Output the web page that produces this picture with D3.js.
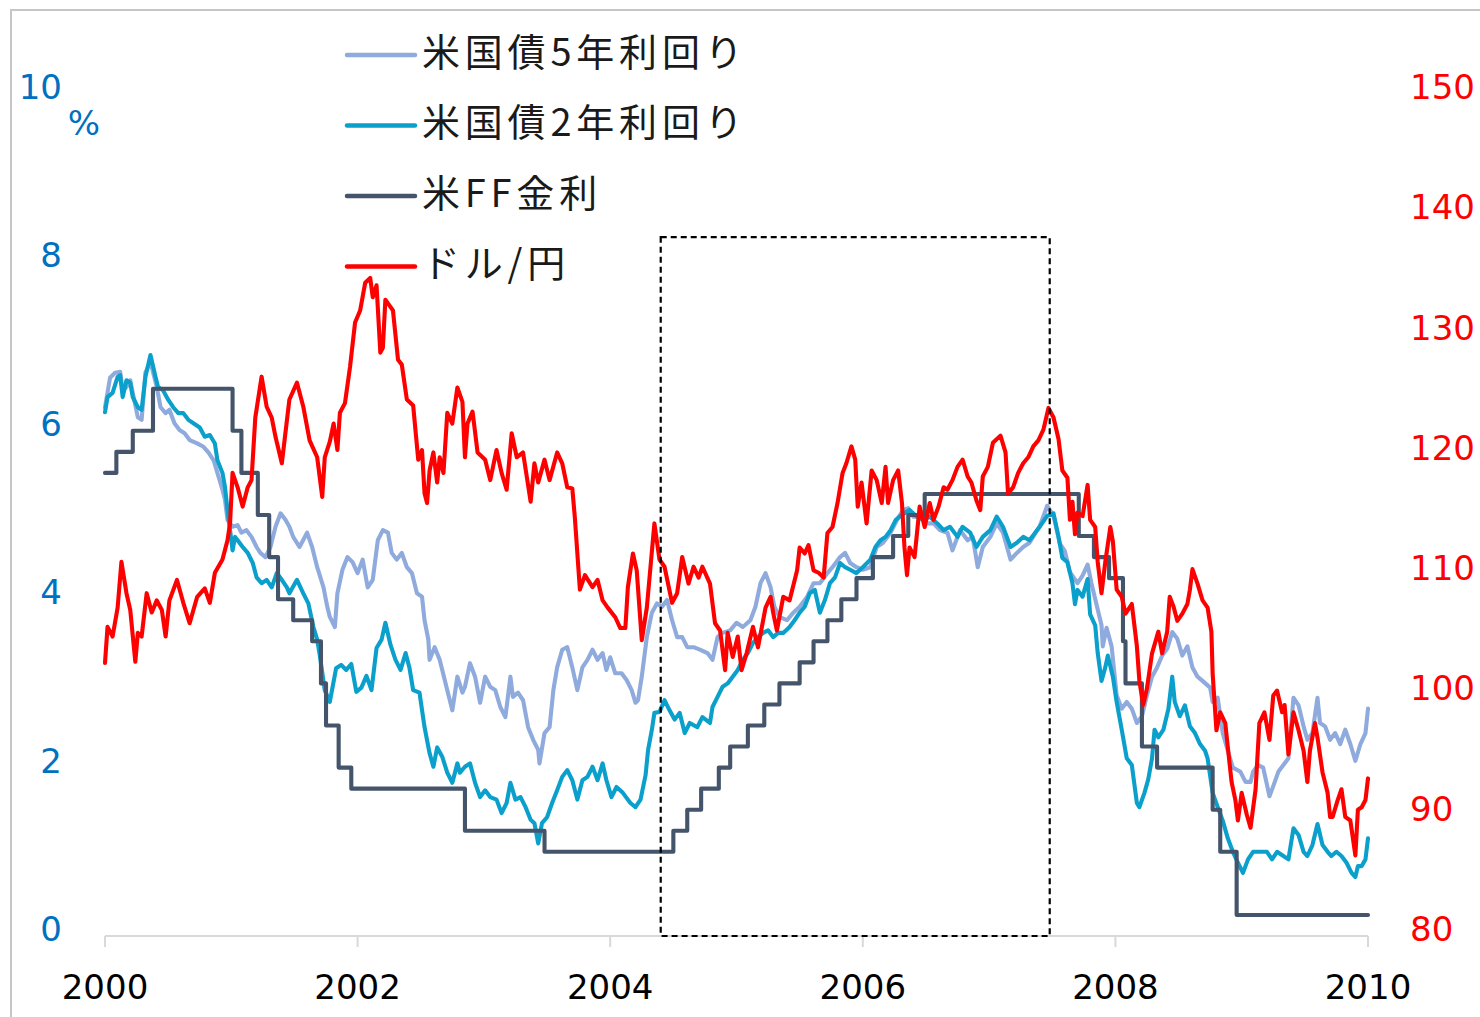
<!DOCTYPE html>
<html>
<head>
<meta charset="utf-8">
<script src="https://cdn.jsdelivr.net/npm/d3@7"></script>
<style>
  body { margin: 0; background: #fff; }
  svg { display: block; }
</style>
</head>
<body>
<div id="chart"></div>
<script>
// series labels (legend order)
var seriesNames = ['米国債5年利回り', '米国債2年利回り', '米FF金利', 'ドル/円'];

// tick labels
var leftTicks = [0, 2, 4, 6, 8, 10];
var rightTicks = [80, 90, 100, 110, 120, 130, 140, 150];
var yearTicks = [2000, 2002, 2004, 2006, 2008, 2010];

// highlighted period (dashed box): start year, end year, top on % axis
var boxRange = [2004.40, 2007.48, 8.3];

// us 5y yield, % [year, value]
var fiveYear = [
    [2000.00,6.28],[2000.04,6.63],[2000.08,6.69],[2000.12,6.70],[2000.14,6.48],[2000.17,6.52],[2000.20,6.60],[2000.22,6.45],
    [2000.26,6.16],[2000.29,6.13],[2000.32,6.69],[2000.36,6.82],[2000.41,6.52],[2000.44,6.28],[2000.48,6.21],[2000.51,6.25],
    [2000.55,6.09],[2000.59,6.01],[2000.63,5.97],[2000.67,5.89],[2000.73,5.85],[2000.78,5.81],[2000.82,5.74],[2000.86,5.65],
    [2000.89,5.50],[2000.93,5.30],[2000.95,5.18],[2000.97,4.94],[2001.01,4.86],[2001.05,4.88],[2001.08,4.79],[2001.12,4.82],
    [2001.16,4.74],[2001.20,4.62],[2001.23,4.55],[2001.27,4.50],[2001.31,4.62],[2001.35,4.86],[2001.39,5.02],[2001.43,4.94],
    [2001.46,4.86],[2001.49,4.74],[2001.54,4.62],[2001.60,4.79],[2001.64,4.62],[2001.68,4.38],[2001.73,4.14],[2001.76,3.91],
    [2001.78,3.79],[2001.82,3.67],[2001.84,4.07],[2001.88,4.35],[2001.92,4.50],[2001.96,4.44],[2002.00,4.31],[2002.04,4.47],
    [2002.08,4.14],[2002.12,4.23],[2002.16,4.70],[2002.20,4.82],[2002.24,4.79],[2002.27,4.55],[2002.31,4.47],[2002.35,4.55],
    [2002.39,4.38],[2002.43,4.31],[2002.47,4.07],[2002.51,4.03],[2002.53,3.75],[2002.56,3.52],[2002.57,3.28],[2002.61,3.43],
    [2002.65,3.28],[2002.71,2.92],[2002.75,2.68],[2002.79,3.08],[2002.83,2.89],[2002.85,2.96],[2002.89,3.24],[2002.93,3.08],
    [2002.97,2.77],[2003.01,3.08],[2003.05,2.96],[2003.09,2.92],[2003.13,2.72],[2003.17,2.60],[2003.21,3.08],[2003.23,2.84],
    [2003.27,2.89],[2003.31,2.80],[2003.35,2.48],[2003.39,2.33],[2003.43,2.21],[2003.44,2.05],[2003.48,2.41],[2003.52,2.48],
    [2003.55,2.92],[2003.58,3.19],[2003.62,3.40],[2003.66,3.43],[2003.70,3.19],[2003.74,2.92],[2003.78,3.19],[2003.82,3.28],
    [2003.86,3.40],[2003.90,3.28],[2003.94,3.36],[2003.97,3.16],[2004.00,3.31],[2004.04,3.12],[2004.09,3.12],[2004.13,3.04],
    [2004.17,2.92],[2004.20,2.77],[2004.22,2.80],[2004.25,3.08],[2004.29,3.55],[2004.33,3.84],[2004.37,3.95],[2004.41,3.91],
    [2004.45,3.99],[2004.49,3.75],[2004.53,3.55],[2004.57,3.55],[2004.61,3.43],[2004.66,3.43],[2004.71,3.40],[2004.77,3.36],
    [2004.81,3.28],[2004.85,3.55],[2004.89,3.60],[2004.95,3.63],[2005.00,3.72],[2005.05,3.67],[2005.11,3.75],[2005.15,3.91],
    [2005.19,4.19],[2005.23,4.31],[2005.27,4.14],[2005.30,3.91],[2005.34,3.79],[2005.40,3.75],[2005.45,3.84],[2005.50,3.91],
    [2005.56,4.03],[2005.61,4.19],[2005.66,4.19],[2005.72,4.31],[2005.76,4.38],[2005.82,4.50],[2005.86,4.55],[2005.90,4.43],
    [2005.95,4.38],[2006.00,4.35],[2006.06,4.38],[2006.11,4.62],[2006.16,4.67],[2006.22,4.79],[2006.27,4.94],[2006.32,5.06],
    [2006.36,5.08],[2006.40,4.98],[2006.45,4.98],[2006.51,4.90],[2006.56,4.90],[2006.61,4.82],[2006.67,4.79],[2006.71,4.58],
    [2006.77,4.82],[2006.83,4.70],[2006.87,4.74],[2006.91,4.38],[2006.95,4.62],[2007.01,4.74],[2007.06,4.90],[2007.11,4.79],
    [2007.17,4.47],[2007.22,4.55],[2007.27,4.62],[2007.32,4.67],[2007.38,4.82],[2007.40,4.86],[2007.46,5.11],[2007.51,4.99],
    [2007.56,4.66],[2007.60,4.57],[2007.64,4.32],[2007.70,4.19],[2007.74,4.28],[2007.78,4.41],[2007.81,4.19],[2007.85,3.94],
    [2007.89,3.69],[2007.90,3.44],[2007.93,3.66],[2007.97,3.44],[2008.01,2.86],[2008.05,2.70],[2008.09,2.78],[2008.13,2.70],
    [2008.17,2.53],[2008.21,2.61],[2008.25,2.86],[2008.29,3.08],[2008.33,3.19],[2008.37,3.33],[2008.41,3.41],[2008.45,3.61],
    [2008.49,3.53],[2008.53,3.33],[2008.57,3.44],[2008.61,3.19],[2008.65,3.08],[2008.69,3.03],[2008.75,2.95],[2008.77,2.78],
    [2008.81,2.83],[2008.85,2.41],[2008.89,2.20],[2008.93,2.00],[2008.99,1.95],[2009.03,1.83],[2009.07,1.83],[2009.09,1.95],
    [2009.13,2.03],[2009.17,2.00],[2009.22,1.66],[2009.25,1.78],[2009.29,1.95],[2009.33,2.03],[2009.37,2.11],[2009.41,2.83],
    [2009.45,2.74],[2009.49,2.49],[2009.52,2.33],[2009.56,2.41],[2009.60,2.83],[2009.62,2.53],[2009.66,2.49],[2009.70,2.33],
    [2009.74,2.41],[2009.78,2.28],[2009.82,2.45],[2009.86,2.28],[2009.90,2.08],[2009.94,2.28],[2009.98,2.41],[2010.00,2.70]
];

// us 2y yield, % [year, value]
var twoYear = [
    [2000.00,6.22],[2000.02,6.40],[2000.06,6.45],[2000.10,6.64],[2000.12,6.66],[2000.14,6.40],[2000.17,6.60],[2000.20,6.57],
    [2000.22,6.40],[2000.26,6.28],[2000.29,6.25],[2000.32,6.64],[2000.36,6.90],[2000.40,6.64],[2000.42,6.52],[2000.46,6.48],
    [2000.50,6.37],[2000.54,6.28],[2000.58,6.21],[2000.62,6.21],[2000.66,6.13],[2000.70,6.09],[2000.75,6.04],[2000.79,5.93],
    [2000.83,5.95],[2000.87,5.85],[2000.89,5.65],[2000.93,5.50],[2000.95,5.33],[2000.97,5.06],[2001.01,4.58],[2001.03,4.74],
    [2001.05,4.70],[2001.09,4.62],[2001.13,4.55],[2001.17,4.43],[2001.20,4.26],[2001.24,4.19],[2001.28,4.23],[2001.32,4.14],
    [2001.36,4.31],[2001.40,4.23],[2001.44,4.14],[2001.46,4.07],[2001.52,4.23],[2001.57,4.07],[2001.61,3.95],[2001.65,3.67],
    [2001.68,3.52],[2001.70,3.34],[2001.74,2.92],[2001.78,2.78],[2001.83,3.18],[2001.87,3.22],[2001.91,3.16],[2001.95,3.23],
    [2001.99,2.90],[2002.03,2.95],[2002.07,3.09],[2002.11,2.92],[2002.15,3.42],[2002.19,3.52],[2002.22,3.72],[2002.26,3.46],
    [2002.30,3.28],[2002.34,3.16],[2002.38,3.36],[2002.41,3.19],[2002.44,2.92],[2002.49,2.89],[2002.53,2.48],[2002.57,2.17],
    [2002.60,2.01],[2002.63,2.24],[2002.67,2.13],[2002.71,1.94],[2002.75,1.82],[2002.79,2.05],[2002.81,1.94],[2002.85,2.01],
    [2002.89,2.05],[2002.93,1.82],[2002.97,1.65],[2003.01,1.73],[2003.05,1.65],[2003.10,1.62],[2003.14,1.46],[2003.18,1.58],
    [2003.21,1.82],[2003.25,1.62],[2003.29,1.65],[2003.33,1.53],[2003.37,1.38],[2003.40,1.34],[2003.43,1.10],[2003.46,1.34],
    [2003.50,1.41],[2003.54,1.58],[2003.58,1.73],[2003.62,1.89],[2003.66,1.97],[2003.70,1.85],[2003.74,1.62],[2003.78,1.85],
    [2003.82,1.89],[2003.86,2.01],[2003.90,1.85],[2003.94,2.05],[2003.97,1.85],[2004.01,1.65],[2004.05,1.77],[2004.10,1.70],
    [2004.16,1.58],[2004.20,1.53],[2004.24,1.62],[2004.28,1.91],[2004.30,2.21],[2004.33,2.45],[2004.35,2.65],[2004.39,2.66],
    [2004.43,2.80],[2004.47,2.68],[2004.51,2.57],[2004.55,2.65],[2004.59,2.41],[2004.63,2.53],[2004.69,2.48],[2004.73,2.60],
    [2004.79,2.53],[2004.81,2.72],[2004.85,2.84],[2004.89,2.96],[2004.93,3.00],[2004.97,3.08],[2005.01,3.16],[2005.05,3.28],
    [2005.09,3.36],[2005.13,3.48],[2005.17,3.55],[2005.21,3.60],[2005.25,3.63],[2005.29,3.55],[2005.33,3.60],[2005.37,3.60],
    [2005.42,3.67],[2005.46,3.75],[2005.50,3.84],[2005.54,3.91],[2005.58,4.07],[2005.62,4.11],[2005.66,3.84],[2005.70,3.99],
    [2005.74,4.19],[2005.78,4.26],[2005.82,4.43],[2005.86,4.38],[2005.90,4.35],[2005.95,4.31],[2006.00,4.38],[2006.06,4.47],
    [2006.10,4.62],[2006.14,4.70],[2006.18,4.74],[2006.22,4.82],[2006.26,4.94],[2006.29,4.98],[2006.33,5.02],[2006.37,5.06],
    [2006.43,4.98],[2006.48,4.94],[2006.53,4.98],[2006.59,4.90],[2006.64,4.82],[2006.69,4.86],[2006.75,4.74],[2006.79,4.86],
    [2006.85,4.79],[2006.90,4.62],[2006.95,4.74],[2007.01,4.82],[2007.06,4.98],[2007.11,4.86],[2007.17,4.62],[2007.22,4.67],
    [2007.27,4.74],[2007.32,4.70],[2007.38,4.82],[2007.40,4.86],[2007.46,4.99],[2007.51,5.02],[2007.55,4.74],[2007.58,4.49],
    [2007.62,4.44],[2007.66,4.19],[2007.68,3.94],[2007.70,4.11],[2007.74,4.03],[2007.78,4.24],[2007.80,3.82],[2007.84,3.69],
    [2007.86,3.36],[2007.89,3.03],[2007.92,3.19],[2007.94,3.33],[2007.98,3.08],[2008.01,2.78],[2008.05,2.45],[2008.09,2.11],
    [2008.13,2.03],[2008.17,1.58],[2008.19,1.53],[2008.23,1.70],[2008.26,1.86],[2008.29,2.11],[2008.31,2.45],[2008.34,2.36],
    [2008.38,2.45],[2008.42,2.70],[2008.45,3.08],[2008.47,2.78],[2008.51,2.61],[2008.55,2.74],[2008.59,2.49],[2008.63,2.41],
    [2008.67,2.28],[2008.71,2.20],[2008.73,2.11],[2008.77,1.70],[2008.81,1.53],[2008.85,1.37],[2008.89,1.16],[2008.93,1.00],
    [2008.97,0.87],[2009.01,0.75],[2009.05,0.91],[2009.09,1.00],[2009.14,1.00],[2009.20,1.00],[2009.24,0.91],[2009.28,1.00],
    [2009.33,0.95],[2009.37,0.91],[2009.41,1.28],[2009.45,1.20],[2009.49,1.00],[2009.52,0.95],[2009.56,1.08],[2009.60,1.33],
    [2009.64,1.08],[2009.68,1.00],[2009.71,0.95],[2009.75,1.00],[2009.79,0.95],[2009.83,0.87],[2009.87,0.75],[2009.90,0.70],
    [2009.92,0.83],[2009.95,0.83],[2009.98,0.91],[2010.00,1.16]
];

// fed funds target, % [year of change, new level]
var fedFunds = [
    [2000.00,5.50],[2000.09,5.75],[2000.22,6.00],[2000.38,6.50],[2001.01,6.00],[2001.08,5.50],[2001.21,5.00],[2001.30,4.50],
    [2001.37,4.00],[2001.49,3.75],[2001.64,3.50],[2001.71,3.00],[2001.75,2.50],[2001.85,2.00],[2001.95,1.75],[2002.85,1.25],
    [2003.48,1.00],[2004.50,1.25],[2004.61,1.50],[2004.72,1.75],[2004.86,2.00],[2004.95,2.25],[2005.09,2.50],[2005.22,2.75],
    [2005.34,3.00],[2005.50,3.25],[2005.61,3.50],[2005.72,3.75],[2005.83,4.00],[2005.95,4.25],[2006.08,4.50],[2006.24,4.75],
    [2006.36,5.00],[2006.49,5.25],[2007.71,4.75],[2007.83,4.50],[2007.95,4.25],[2008.06,3.50],[2008.08,3.00],[2008.21,2.25],
    [2008.33,2.00],[2008.77,1.50],[2008.83,1.00],[2008.96,0.25],[2010.00,0.25]
];

// usd/jpy, yen [year, value]
var usdJpy = [
    [2000.00,102.7],[2000.02,105.7],[2000.06,104.9],[2000.10,107.3],[2000.13,111.1],[2000.17,108.5],[2000.20,107.1],[2000.24,102.8],
    [2000.26,105.2],[2000.29,104.9],[2000.33,108.5],[2000.37,106.9],[2000.41,107.9],[2000.45,107.1],[2000.48,104.9],[2000.51,107.9],
    [2000.57,109.6],[2000.62,107.7],[2000.67,106.0],[2000.73,108.2],[2000.79,108.9],[2000.83,107.7],[2000.87,110.2],[2000.93,111.3],
    [2000.97,112.9],[2000.99,114.3],[2001.01,118.5],[2001.05,117.3],[2001.09,115.7],[2001.13,117.3],[2001.16,117.9],[2001.19,123.1],
    [2001.24,126.5],[2001.28,124.0],[2001.32,123.1],[2001.35,121.5],[2001.40,119.3],[2001.46,124.6],[2001.52,126.0],[2001.57,124.0],
    [2001.62,121.2],[2001.68,119.8],[2001.72,116.5],[2001.74,119.8],[2001.78,121.1],[2001.81,122.6],[2001.84,120.4],[2001.86,123.5],
    [2001.90,124.3],[2001.94,127.3],[2001.98,131.0],[2002.02,132.0],[2002.06,134.3],[2002.10,134.7],[2002.12,133.1],[2002.15,134.1],
    [2002.18,128.5],[2002.20,128.9],[2002.22,132.9],[2002.26,132.3],[2002.28,132.0],[2002.32,127.9],[2002.35,127.5],[2002.39,124.6],
    [2002.44,124.1],[2002.48,119.6],[2002.51,120.4],[2002.53,116.8],[2002.55,116.0],[2002.57,118.7],[2002.60,120.2],[2002.63,117.7],
    [2002.65,119.8],[2002.68,118.5],[2002.71,123.5],[2002.75,122.6],[2002.79,125.6],[2002.83,124.4],[2002.85,119.8],[2002.87,122.6],
    [2002.91,123.6],[2002.95,120.2],[2003.01,119.6],[2003.05,117.9],[2003.10,120.4],[2003.14,118.5],[2003.18,117.1],[2003.22,121.8],
    [2003.26,119.8],[2003.31,120.2],[2003.37,116.1],[2003.40,119.3],[2003.43,117.7],[2003.48,119.6],[2003.52,117.9],[2003.58,120.2],
    [2003.62,119.3],[2003.66,117.3],[2003.70,117.2],[2003.72,114.8],[2003.76,108.8],[2003.80,110.0],[2003.86,109.0],[2003.90,109.6],
    [2003.94,107.9],[2003.98,107.3],[2004.04,106.5],[2004.08,105.6],[2004.12,105.6],[2004.14,109.0],[2004.18,111.8],[2004.21,110.4],
    [2004.25,104.6],[2004.29,107.3],[2004.35,114.3],[2004.39,111.3],[2004.43,110.7],[2004.49,107.7],[2004.53,108.5],[2004.57,111.5],
    [2004.62,109.3],[2004.66,110.7],[2004.70,109.8],[2004.73,110.7],[2004.79,109.3],[2004.83,106.0],[2004.87,105.4],[2004.91,102.1],
    [2004.93,105.2],[2004.97,103.2],[2005.01,104.9],[2005.04,102.1],[2005.08,103.5],[2005.13,105.7],[2005.17,104.0],[2005.23,107.3],
    [2005.27,108.2],[2005.29,106.9],[2005.32,105.4],[2005.37,108.2],[2005.42,107.9],[2005.48,110.4],[2005.50,112.3],[2005.54,111.8],
    [2005.57,112.5],[2005.61,110.4],[2005.65,110.2],[2005.69,109.8],[2005.72,113.5],[2005.76,114.0],[2005.80,116.0],[2005.84,118.5],
    [2005.87,119.3],[2005.91,120.7],[2005.94,119.6],[2005.96,115.7],[2005.99,117.7],[2006.03,114.3],[2006.07,118.7],[2006.11,117.9],
    [2006.15,116.0],[2006.18,119.0],[2006.20,116.0],[2006.24,117.9],[2006.28,118.7],[2006.31,116.0],[2006.33,112.3],[2006.35,110.0],
    [2006.37,112.3],[2006.41,111.5],[2006.45,115.7],[2006.49,114.0],[2006.53,116.0],[2006.56,114.6],[2006.60,115.7],[2006.64,117.3],
    [2006.67,117.1],[2006.71,117.9],[2006.75,119.0],[2006.79,119.6],[2006.83,118.2],[2006.86,117.7],[2006.90,116.2],[2006.93,115.4],
    [2006.95,118.2],[2006.99,119.0],[2007.03,121.0],[2007.09,121.6],[2007.13,120.2],[2007.15,116.8],[2007.19,117.3],[2007.23,118.5],
    [2007.27,119.3],[2007.31,119.8],[2007.35,120.7],[2007.39,121.2],[2007.43,122.1],[2007.47,123.9],[2007.51,123.1],[2007.55,121.3],
    [2007.58,118.7],[2007.62,118.1],[2007.64,114.6],[2007.66,116.1],[2007.68,113.4],[2007.70,115.2],[2007.74,114.9],[2007.78,117.5],
    [2007.80,114.6],[2007.84,114.0],[2007.86,111.1],[2007.89,108.5],[2007.92,111.1],[2007.96,114.0],[2007.98,112.8],[2008.01,108.8],
    [2008.05,108.2],[2008.08,106.8],[2008.13,107.6],[2008.17,104.1],[2008.19,101.2],[2008.22,99.2],[2008.25,100.6],[2008.29,103.5],
    [2008.34,105.3],[2008.37,103.5],[2008.41,105.3],[2008.43,108.2],[2008.46,107.4],[2008.49,106.2],[2008.53,106.8],[2008.57,107.6],
    [2008.59,108.8],[2008.61,110.5],[2008.65,109.3],[2008.69,107.9],[2008.73,107.3],[2008.76,105.3],[2008.77,101.8],[2008.80,97.1],
    [2008.83,98.6],[2008.87,97.7],[2008.89,95.7],[2008.92,92.8],[2008.95,91.3],[2008.97,89.6],[2009.00,91.9],[2009.04,90.1],
    [2009.07,89.0],[2009.11,92.2],[2009.14,97.7],[2009.18,98.6],[2009.22,96.3],[2009.25,100.0],[2009.28,100.4],[2009.32,98.6],
    [2009.34,99.2],[2009.37,95.1],[2009.41,98.6],[2009.45,97.1],[2009.49,95.4],[2009.52,92.8],[2009.54,95.4],[2009.58,97.7],
    [2009.60,96.5],[2009.64,93.6],[2009.68,91.9],[2009.70,89.9],[2009.72,89.9],[2009.76,91.3],[2009.79,92.2],[2009.82,89.9],
    [2009.86,89.6],[2009.90,86.7],[2009.92,90.5],[2009.95,90.7],[2009.98,91.3],[2010.00,93.1]
];

var colors = ['#8FAADC', '#0BA0CC', '#44546A', '#FF0000'];

var width = 1480,
    height = 1017;

var svg = d3.select('#chart').append('svg')
    .attr('width', width)
    .attr('height', height);

// scales
var x = d3.scaleLinear().domain([2000, 2010]).range([105, 1368]);
var yLeft = d3.scaleLinear().domain([0, 10]).range([936, 94]);
var yRight = d3.scaleLinear().domain([80, 150]).range([936, 94]);

// outer frame
svg.append('rect')
    .attr('x', 11).attr('y', 10)
    .attr('width', width).attr('height', height)
    .attr('fill', 'none')
    .attr('stroke', '#C6C6C6')
    .attr('stroke-width', 2);

// x axis line + ticks
svg.append('line')
    .attr('x1', x(2000)).attr('x2', x(2010))
    .attr('y1', yLeft(0)).attr('y2', yLeft(0))
    .attr('stroke', '#D9D9D9').attr('stroke-width', 2);

svg.append('g').selectAll('line')
    .data(yearTicks)
    .enter().append('line')
        .attr('x1', function(d){ return x(d); })
        .attr('x2', function(d){ return x(d); })
        .attr('y1', yLeft(0))
        .attr('y2', yLeft(0) + 11)
        .attr('stroke', '#D9D9D9').attr('stroke-width', 2);

var tickFont = '"DejaVu Sans", Verdana, sans-serif';

// year labels
svg.append('g').selectAll('text')
    .data(yearTicks)
    .enter().append('text')
        .attr('x', function(d){ return x(d); })
        .attr('y', 987)
        .attr('text-anchor', 'middle')
        .attr('dominant-baseline', 'central')
        .attr('font-family', tickFont)
        .attr('font-size', 34)
        .attr('fill', '#000')
        .text(function(d){ return d; });

// left axis labels
svg.append('g').selectAll('text')
    .data(leftTicks)
    .enter().append('text')
        .attr('x', 62)
        .attr('y', function(d){ return yLeft(d) - 7; })
        .attr('text-anchor', 'end')
        .attr('dominant-baseline', 'central')
        .attr('font-family', tickFont)
        .attr('font-size', 34)
        .attr('fill', '#0070C0')
        .text(function(d){ return d; });

svg.append('text')
    .attr('x', 84).attr('y', 123)
    .attr('text-anchor', 'middle')
    .attr('dominant-baseline', 'central')
    .attr('font-family', tickFont)
    .attr('font-size', 34)
    .attr('fill', '#0070C0')
    .text('%');

// right axis labels
svg.append('g').selectAll('text')
    .data(rightTicks)
    .enter().append('text')
        .attr('x', 1410)
        .attr('y', function(d){ return yRight(d) - 7; })
        .attr('text-anchor', 'start')
        .attr('dominant-baseline', 'central')
        .attr('font-family', tickFont)
        .attr('font-size', 34)
        .attr('fill', '#FF0000')
        .text(function(d){ return d; });

// lines
var lineLeft = d3.line()
    .x(function(d){ return x(d[0]); })
    .y(function(d){ return yLeft(d[1]); });

var stepLeft = d3.line()
    .curve(d3.curveStepAfter)
    .x(function(d){ return x(d[0]); })
    .y(function(d){ return yLeft(d[1]); });

var lineRight = d3.line()
    .x(function(d){ return x(d[0]); })
    .y(function(d){ return yRight(d[1]); });

var series = [
    {data: fiveYear, path: lineLeft},
    {data: twoYear, path: lineLeft},
    {data: fedFunds, path: stepLeft},
    {data: usdJpy, path: lineRight}
];

series.forEach(function(s, i){
    svg.append('path')
        .datum(s.data)
        .attr('d', s.path)
        .attr('fill', 'none')
        .attr('stroke', colors[i])
        .attr('stroke-width', 4.1)
        .attr('stroke-linejoin', 'round')
        .attr('stroke-linecap', 'round');
});

// dashed box over the 2004-2007 hiking period
svg.append('rect')
    .attr('x', x(boxRange[0]))
    .attr('y', yLeft(boxRange[2]))
    .attr('width', x(boxRange[1]) - x(boxRange[0]))
    .attr('height', yLeft(0) - yLeft(boxRange[2]))
    .attr('fill', 'none')
    .attr('stroke', '#000')
    .attr('stroke-width', 2.2)
    .attr('stroke-dasharray', '6,4');

// legend
var legend = svg.append('g').selectAll('g')
    .data(seriesNames)
    .enter().append('g')
        .attr('transform', function(d, i){ return 'translate(0,' + (55 + i * 70.5) + ')'; });

legend.append('line')
    .attr('x1', 347).attr('x2', 415)
    .attr('y1', 0).attr('y2', 0)
    .attr('stroke', function(d, i){ return colors[i]; })
    .attr('stroke-width', 4.5)
    .attr('stroke-linecap', 'round');

legend.append('text')
    .attr('x', 422)
    .attr('y', -6)
    .attr('dominant-baseline', 'central')
    .attr('font-family', '"Noto Sans CJK JP", sans-serif')
    .attr('font-size', 38)
    .attr('letter-spacing', 4.8)
    .attr('fill', '#1A1A1A')
    .text(function(d){ return d; });
</script>
</body>
</html>
